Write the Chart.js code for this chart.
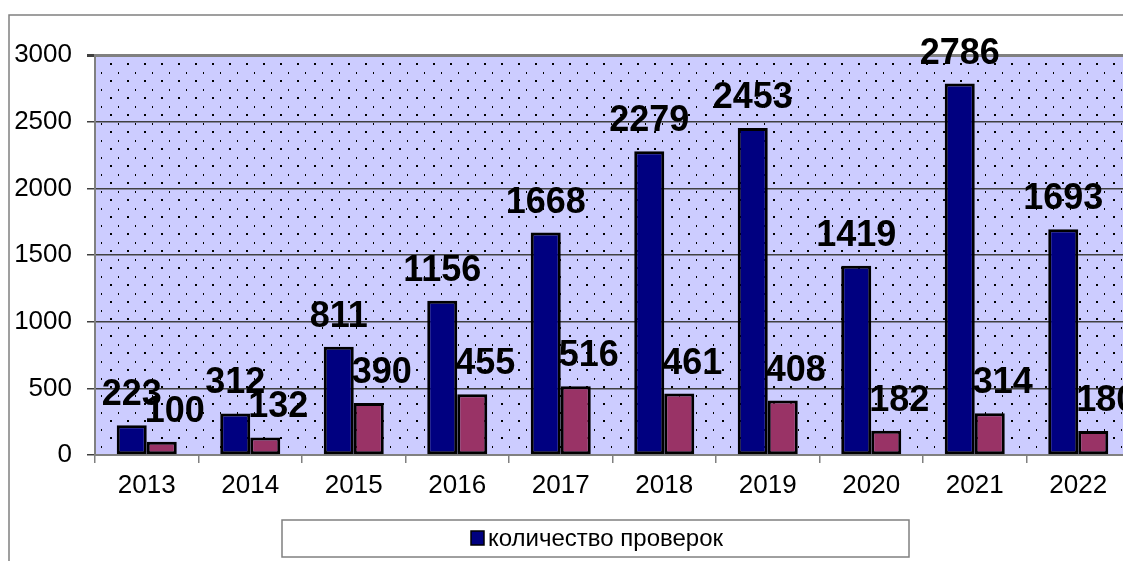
<!DOCTYPE html>
<html>
<head>
<meta charset="utf-8">
<script src="https://cdn.jsdelivr.net/npm/chart.js@4/dist/chart.umd.min.js"></script>
<style>
  html, body { margin: 0; padding: 0; background: #fff; overflow: hidden; }
  #wrap { width: 1140px; height: 561px; }
</style>
</head>
<body>
<div id="wrap"><canvas id="myBarChart" width="1140" height="561"></canvas></div>
<script>
const years = ['2013', '2014', '2015', '2016', '2017', '2018', '2019', '2020', '2021', '2022'];
const inspections = [223, 312, 811, 1156, 1668, 2279, 2453, 1419, 2786, 1693];
const secondValues = [100, 132, 390, 455, 516, 461, 408, 182, 314, 180];
const yTickValues = [0, 500, 1000, 1500, 2000, 2500, 3000];

const FONT = '"Liberation Sans", Arial, sans-serif';

// dotted lavender fill of the plot area
function makePattern(ctx) {
  const tile = document.createElement('canvas');
  tile.width = 17;
  tile.height = 17;
  const t = tile.getContext('2d');
  t.fillStyle = '#ccccff';
  t.fillRect(0, 0, 17, 17);
  t.fillStyle = '#000';
  t.fillRect(8, 12, 2, 2);
  t.fillRect(16, 4, 2, 2);
  return ctx.createPattern(tile, 'repeat');
}

const plotBackground = {
  id: 'plotBackground',
  beforeDraw(chart) {
    const { ctx, chartArea: a } = chart;
    ctx.save();
    ctx.fillStyle = makePattern(ctx);
    ctx.fillRect(a.left, a.top, a.right - a.left, a.bottom - a.top);
    // outer frame of the whole chart
    ctx.strokeStyle = '#808080';
    ctx.lineWidth = 1.5;
    ctx.beginPath();
    ctx.moveTo(9, chart.height + 5);
    ctx.lineTo(9, 15);
    ctx.lineTo(chart.width + 5, 15);
    ctx.stroke();
    ctx.restore();
  }
};

const valueLabels = {
  id: 'valueLabels',
  afterDatasetsDraw(chart) {
    const { ctx } = chart;
    ctx.save();
    ctx.font = 'bold 36px ' + FONT;
    ctx.fillStyle = '#000';
    ctx.textAlign = 'center';
    ctx.textBaseline = 'alphabetic';
    chart.data.datasets.forEach((ds, i) => {
      const dx = i === 1 ? 13 : 0;
      chart.getDatasetMeta(i).data.forEach((bar, j) => {
        ctx.fillText(String(ds.data[j]), bar.x + dx, bar.y - 20);
      });
    });
    ctx.restore();
  }
};

const boxedLegend = {
  id: 'boxedLegend',
  afterDraw(chart) {
    const { ctx, chartArea: a } = chart;
    const ds = chart.data.datasets[0];
    const left = a.left + 187, top = a.bottom + 65, w = 627, h = 37;
    ctx.save();
    ctx.fillStyle = '#fff';
    ctx.fillRect(left, top, w, h);
    ctx.strokeStyle = '#808080';
    ctx.lineWidth = 1.5;
    ctx.strokeRect(left, top, w, h);
    ctx.fillStyle = ds.backgroundColor;
    ctx.fillRect(left + 189, top + 11, 13, 14);
    ctx.strokeStyle = '#000';
    ctx.lineWidth = 1.5;
    ctx.strokeRect(left + 189, top + 11, 13, 14);
    ctx.fillStyle = '#000';
    ctx.font = '24px ' + FONT;
    ctx.textBaseline = 'middle';
    ctx.fillText(ds.label, left + 206, top + 19);
    ctx.restore();
  }
};

new Chart(document.getElementById('myBarChart'), {
  type: 'bar',
  data: {
    labels: years,
    datasets: [
      {
        label: 'количество проверок',
        data: inspections,
        backgroundColor: '#000080',
        borderColor: '#000',
        borderWidth: 3,
        borderSkipped: false,
      },
      {
        label: '',
        data: secondValues,
        backgroundColor: '#993366',
        borderColor: '#000',
        borderWidth: 3,
        borderSkipped: false,
      }
    ]
  },
  options: {
    responsive: false,
    animation: false,
    devicePixelRatio: 1,
    categoryPercentage: 0.58,
    barPercentage: 1,
    layout: { padding: { top: 55, right: 10, left: 0, bottom: 0 } },
    plugins: {
      legend: { display: false },
      tooltip: { enabled: false },
      title: { display: false }
    },
    scales: {
      x: {
        grid: {
          offset: true,
          drawOnChartArea: false,
          tickLength: 8,
          color: '#808080',
          lineWidth: 1.5
        },
        border: { color: '#808080', width: 2 },
        ticks: { color: '#000', font: { family: FONT, size: 26 }, padding: 7, maxRotation: 0 },
        afterFit(scale) { scale.height = 106; }
      },
      y: {
        min: 0,
        max: 3000,
        afterBuildTicks(scale) { scale.ticks = yTickValues.map(v => ({ value: v })); },
        grid: {
          tickLength: 8,
          color: c => (c.tick && c.tick.value === 3000) ? '#808080' : '#404040',
          lineWidth: c => (c.tick && c.tick.value === 3000) ? 3 : 1.5,
          tickColor: '#404040'
        },
        border: { color: '#808080', width: 2 },
        ticks: {
          color: '#000',
          font: { family: FONT, size: 26 },
          padding: 15,
          callback: v => String(v)
        },
        afterFit(scale) { scale.width = 95; }
      }
    }
  },
  plugins: [plotBackground, valueLabels, boxedLegend]
});
</script>
</body>
</html>
